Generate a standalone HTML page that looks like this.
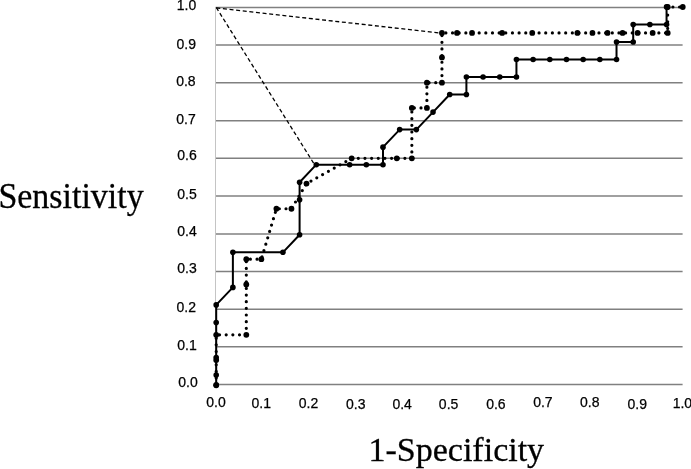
<!DOCTYPE html>
<html><head><meta charset="utf-8"><style>
html,body{margin:0;padding:0;background:#fff;}
body{width:691px;height:469px;overflow:hidden;}
svg{display:block;will-change:transform;}
.tk{font-family:"Liberation Sans",sans-serif;font-size:14px;fill:#000;stroke:#000;stroke-width:0.25px;}
.tt{font-family:"Liberation Serif",serif;font-size:35px;fill:#000;stroke:#000;stroke-width:0.3px;}
</style></head><body>
<svg width="691" height="469" viewBox="0 0 691 469">
<g stroke="#808080" stroke-width="1.5" fill="none">
<line x1="216.00" y1="384.60" x2="682.60" y2="384.60"/>
<line x1="216.00" y1="346.70" x2="682.60" y2="346.70"/>
<line x1="216.00" y1="309.30" x2="682.60" y2="309.30"/>
<line x1="216.00" y1="271.50" x2="682.60" y2="271.50"/>
<line x1="216.00" y1="234.00" x2="682.60" y2="234.00"/>
<line x1="216.00" y1="196.00" x2="682.60" y2="196.00"/>
<line x1="216.00" y1="158.20" x2="682.60" y2="158.20"/>
<line x1="216.00" y1="120.65" x2="682.60" y2="120.65"/>
<line x1="216.00" y1="82.70" x2="682.60" y2="82.70"/>
<line x1="216.00" y1="45.00" x2="682.60" y2="45.00"/>
<line x1="216.00" y1="7.50" x2="682.60" y2="7.50"/>
</g>
<line x1="215.5" y1="6.80" x2="215.5" y2="385.30" stroke="#c4c4c4" stroke-width="1"/>
<g class="tk"><text x="178.33" y="387.44">0.0</text><text x="177.26" y="350.04">0.1</text><text x="176.46" y="312.08">0.2</text><text x="177.26" y="273.32">0.3</text><text x="177.26" y="236.36">0.4</text><text x="177.26" y="199.40">0.5</text><text x="177.26" y="159.64">0.6</text><text x="176.26" y="124.08">0.7</text><text x="176.13" y="86.36">0.8</text><text x="176.53" y="48.96">0.9</text><text x="176.71" y="9.80">1.0</text></g>
<g class="tk"><text x="206.27" y="406.58">0.0</text><text x="251.48" y="407.90">0.1</text><text x="298.76" y="407.90">0.2</text><text x="346.06" y="408.70">0.3</text><text x="392.38" y="408.73">0.4</text><text x="438.86" y="408.70">0.5</text><text x="486.16" y="408.70">0.6</text><text x="533.13" y="407.33">0.7</text><text x="579.98" y="407.30">0.8</text><text x="627.50" y="408.74">0.9</text><text x="672.63" y="407.90">1.0</text></g>
<text class="tt" transform="translate(-1.6,207.6) scale(0.97,1)">Sensitivity</text>
<text class="tt" style="font-size:34px" transform="translate(368.5,461.4)">1-Specificity</text>
<g stroke="#000" stroke-width="1.3" stroke-dasharray="4 2.65" fill="none">
<line x1="216.30" y1="7.50" x2="314.50" y2="164.60"/>
<line x1="216.30" y1="7.90" x2="442.00" y2="33.30"/>
</g>
<polyline points="216.20,384.80 216.20,375.04 216.20,357.50 216.20,322.44 216.20,304.92 232.88,287.38 232.88,252.32 282.92,252.32 299.60,234.80 299.60,199.74 299.60,182.20 316.28,164.68 349.64,164.68 366.32,164.68 383.00,164.68 383.00,147.14 399.68,129.62 416.36,129.62 433.04,112.08 449.72,94.56 466.40,94.56 466.40,77.02 483.08,77.02 499.76,77.02 516.44,77.02 516.44,59.50 533.12,59.50 549.80,59.50 566.48,59.50 583.16,59.50 599.84,59.50 616.52,59.50 616.52,41.96 633.20,41.96 633.20,24.44 649.88,24.44 666.56,24.44 666.56,6.90" fill="none" stroke="#000" stroke-width="2" stroke-linejoin="round"/>
<g fill="#000"><circle cx="216.20" cy="384.80" r="2.8"/><circle cx="216.20" cy="375.04" r="2.8"/><circle cx="216.20" cy="357.50" r="2.8"/><circle cx="216.20" cy="322.44" r="2.8"/><circle cx="216.20" cy="304.92" r="2.8"/><circle cx="232.88" cy="287.38" r="2.8"/><circle cx="232.88" cy="252.32" r="2.8"/><circle cx="282.92" cy="252.32" r="2.8"/><circle cx="299.60" cy="234.80" r="2.8"/><circle cx="299.60" cy="199.74" r="2.8"/><circle cx="299.60" cy="182.20" r="2.8"/><circle cx="316.28" cy="164.68" r="2.8"/><circle cx="349.64" cy="164.68" r="2.8"/><circle cx="366.32" cy="164.68" r="2.8"/><circle cx="383.00" cy="164.68" r="2.8"/><circle cx="383.00" cy="147.14" r="2.8"/><circle cx="399.68" cy="129.62" r="2.8"/><circle cx="416.36" cy="129.62" r="2.8"/><circle cx="433.04" cy="112.08" r="2.8"/><circle cx="449.72" cy="94.56" r="2.8"/><circle cx="466.40" cy="94.56" r="2.8"/><circle cx="466.40" cy="77.02" r="2.8"/><circle cx="483.08" cy="77.02" r="2.8"/><circle cx="499.76" cy="77.02" r="2.8"/><circle cx="516.44" cy="77.02" r="2.8"/><circle cx="516.44" cy="59.50" r="2.8"/><circle cx="533.12" cy="59.50" r="2.8"/><circle cx="549.80" cy="59.50" r="2.8"/><circle cx="566.48" cy="59.50" r="2.8"/><circle cx="583.16" cy="59.50" r="2.8"/><circle cx="599.84" cy="59.50" r="2.8"/><circle cx="616.52" cy="59.50" r="2.8"/><circle cx="616.52" cy="41.96" r="2.8"/><circle cx="633.20" cy="41.96" r="2.8"/><circle cx="633.20" cy="24.44" r="2.8"/><circle cx="649.88" cy="24.44" r="2.8"/><circle cx="666.56" cy="24.44" r="2.8"/><circle cx="666.56" cy="6.90" r="2.8"/></g>
<polyline points="216.20,385.30 216.20,360.08 216.20,334.86 246.30,334.86 246.30,284.42 246.30,259.20 261.35,259.20 276.40,208.76 291.45,208.76 306.50,183.54 351.65,158.32 396.80,158.32 411.85,158.32 411.85,107.88 426.90,107.88 426.90,82.66 441.95,82.66 441.95,57.44 441.95,32.90 457.00,32.90 472.05,32.90 502.15,32.90 532.25,32.90 577.40,32.90 592.45,32.90 607.50,32.90 622.55,32.90 637.60,32.90 652.65,32.90 667.70,32.90 667.70,7.00 682.75,7.00" fill="none" stroke="#000" stroke-width="3.2" stroke-linecap="round" stroke-dasharray="0 6.656" stroke-dashoffset="-0.54"/>
<g fill="#000"><circle cx="216.20" cy="385.30" r="2.9"/><circle cx="216.20" cy="360.08" r="2.9"/><circle cx="216.20" cy="334.86" r="2.9"/><circle cx="246.30" cy="334.86" r="2.9"/><circle cx="246.30" cy="284.42" r="2.9"/><circle cx="246.30" cy="259.20" r="2.9"/><circle cx="261.35" cy="259.20" r="2.9"/><circle cx="276.40" cy="208.76" r="2.9"/><circle cx="291.45" cy="208.76" r="2.9"/><circle cx="306.50" cy="183.54" r="2.9"/><circle cx="351.65" cy="158.32" r="2.9"/><circle cx="396.80" cy="158.32" r="2.9"/><circle cx="411.85" cy="158.32" r="2.9"/><circle cx="411.85" cy="107.88" r="2.9"/><circle cx="426.90" cy="107.88" r="2.9"/><circle cx="426.90" cy="82.66" r="2.9"/><circle cx="441.95" cy="82.66" r="2.9"/><circle cx="441.95" cy="57.44" r="2.9"/><circle cx="441.95" cy="32.90" r="2.9"/><circle cx="457.00" cy="32.90" r="2.9"/><circle cx="472.05" cy="32.90" r="2.9"/><circle cx="502.15" cy="32.90" r="2.9"/><circle cx="532.25" cy="32.90" r="2.9"/><circle cx="577.40" cy="32.90" r="2.9"/><circle cx="592.45" cy="32.90" r="2.9"/><circle cx="607.50" cy="32.90" r="2.9"/><circle cx="622.55" cy="32.90" r="2.9"/><circle cx="637.60" cy="32.90" r="2.9"/><circle cx="652.65" cy="32.90" r="2.9"/><circle cx="667.70" cy="32.90" r="2.9"/><circle cx="667.70" cy="7.00" r="2.9"/><circle cx="682.75" cy="7.00" r="2.9"/></g>
</svg>
</body></html>
